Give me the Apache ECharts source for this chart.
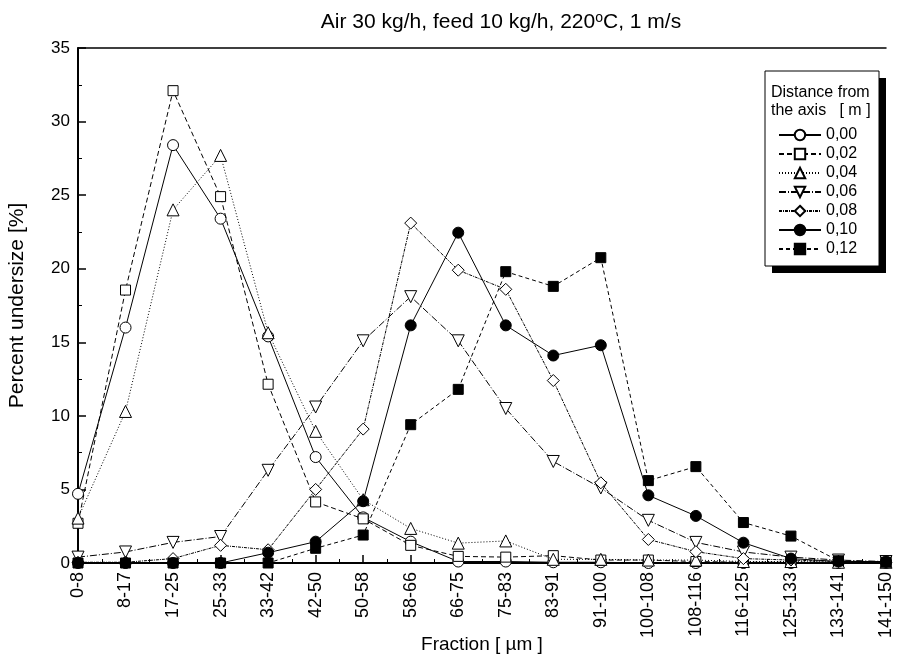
<!DOCTYPE html>
<html>
<head>
<meta charset="utf-8">
<script src="https://cdn.jsdelivr.net/npm/echarts@6/dist/echarts.min.js"></script>
<style>html,body{margin:0;padding:0;background:#fff}#c{width:900px;height:657px}</style>
</head>
<body>
<div id="c"></div>
<script>
const categories = ['0-8','8-17','17-25','25-33','33-42','42-50','50-58','58-66','66-75','75-83','83-91','91-100','100-108','108-116','116-125','125-133','133-141','141-150'];
const seriesNames = ['0,00','0,02','0,04','0,06','0,08','0,10','0,12'];
const s000 = [4.7, 16.0, 28.4, 23.4, 15.4, 7.2, 3.1, 1.45, 0.1, 0.1, 0.05, 0.05, 0.0, 0.0, 0.0, 0.0, 0.0, 0.0];
const s002 = [2.7, 18.55, 32.1, 24.9, 12.15, 4.15, 3.0, 1.2, 0.45, 0.4, 0.5, 0.2, 0.2, 0.1, 0.05, 0.05, 0.05, 0.05];
const s004 = [3.05, 10.3, 24.0, 27.7, 15.65, 8.95, 4.3, 2.35, 1.35, 1.5, 0.25, 0.25, 0.2, 0.2, 0.1, 0.1, 0.05, 0.05];
const s006 = [0.4, 0.75, 1.4, 1.8, 6.3, 10.6, 15.1, 18.1, 15.1, 10.5, 6.9, 5.1, 2.9, 1.4, 0.75, 0.4, 0.2, 0.1];
const s008 = [0.05, 0.05, 0.3, 1.2, 0.9, 5.0, 9.1, 23.1, 19.9, 18.6, 12.4, 5.45, 1.6, 0.77, 0.3, 0.2, 0.1, 0.05];
const s010 = [0.0, 0.0, 0.0, 0.0, 0.7, 1.45, 4.2, 16.15, 22.45, 16.15, 14.1, 14.8, 4.6, 3.2, 1.38, 0.3, 0.1, 0.1];
const s012 = [0.0, 0.0, 0.0, 0.0, 0.0, 1.0, 1.9, 9.4, 11.8, 19.8, 18.8, 20.75, 5.6, 6.55, 2.75, 1.83, 0.15, 0.05];

const seriesData = [s000, s002, s004, s006, s008, s010, s012];
const symbols = ['circle', 'rect', 'triangle', 'path://M0,0 L10,0 L5,9 Z', 'diamond', 'circle', 'rect'];
const symbolSizes = [11, 10, 12, 12, 12, 11, 10];
const filled = [false, false, false, false, false, true, true];
const dashes = ['solid', [5,3], [1,2], [7,2,1,2], [3,1,1,1], 'solid', [4,3]];

const FONT = 'Liberation Sans, Arial, sans-serif';
const chart = echarts.init(document.getElementById('c'), null, {renderer: 'canvas'});

const series = seriesNames.map((n, i) => ({
  name: n,
  type: 'line',
  xAxisIndex: 0,
  yAxisIndex: 0,
  data: seriesData[i],
  symbol: symbols[i],
  symbolSize: symbolSizes[i],
  showSymbol: true,
  showAllSymbol: true,
  z: 2 + i * 0.01,
  lineStyle: {color: '#000', width: 1, type: dashes[i]},
  itemStyle: {color: filled[i] ? '#000' : '#fff', borderColor: '#000', borderWidth: 1},
  emphasis: {disabled: true}
}));

const option = {
  animation: false,
  backgroundColor: '#fff',
  title: {
    text: 'Air 30 kg/h, feed 10 kg/h, 220{sup|o}C, 1 m/s',
    left: 496, top: 6, textAlign: 'center',
    textStyle: {
      fontFamily: FONT, fontSize: 21, fontWeight: 'normal', color: '#000',
      rich: {sup: {fontFamily: FONT, fontSize: 14, color: '#000', verticalAlign: 'top', padding: [0,0,9,0]}}
    }
  },
  grid: {left: 78, right: 14, top: 48, bottom: 94, outerBoundsMode: 'none', containLabel: false},
  xAxis: [
    {
      type: 'category', data: categories, boundaryGap: false, position: 'bottom',
      axisLine: {show: true, onZero: false, lineStyle: {color: '#000', width: 2}},
      axisTick: {show: false},
      axisLabel: {rotate: 90, fontFamily: FONT, fontSize: 18, color: '#000', margin: 9, interval: 0},
      splitLine: {show: false},
      name: 'Fraction [ \u00b5m ]', nameLocation: 'middle', nameGap: 72, nameMoveOverlap: false,
      nameTextStyle: {fontFamily: FONT, fontSize: 19, color: '#000'}
    },
    {
      type: 'value', min: 0, max: 17, interval: 1, position: 'bottom',
      axisLine: {show: false},
      axisTick: {show: true, inside: true, length: 8, lineStyle: {color: '#000', width: 1.5}},
      minorTick: {show: true, splitNumber: 2, length: 4, lineStyle: {color: '#000', width: 1}},
      axisLabel: {show: false}, splitLine: {show: false}
    },
    {
      type: 'value', min: 0, max: 17, position: 'top',
      axisLine: {show: true, onZero: false, lineStyle: {color: '#000', width: 1.5}},
      axisTick: {show: false}, axisLabel: {show: false}, splitLine: {show: false}
    }
  ],
  yAxis: {
    type: 'value', min: 0, max: 35, interval: 5,
    axisLine: {show: true, onZero: false, lineStyle: {color: '#000', width: 2}},
    axisTick: {show: true, inside: true, length: 8, lineStyle: {color: '#000', width: 1.5}},
    minorTick: {show: true, splitNumber: 2, length: 4, lineStyle: {color: '#000', width: 1}},
    axisLabel: {fontFamily: FONT, fontSize: 17, color: '#000', margin: 8},
    splitLine: {show: false},
    name: 'Percent undersize [%]', nameLocation: 'middle', nameGap: 50, nameMoveOverlap: false,
    nameTextStyle: {fontFamily: FONT, fontSize: 21, color: '#000'}
  },
  legend: {
    data: seriesNames,
    orient: 'vertical',
    left: 773, top: 122,
    itemWidth: 42, itemHeight: 13, itemGap: 3,
    selectedMode: false,
    z: 20,
    textStyle: {fontFamily: FONT, fontSize: 16, color: '#000'}
  },
  graphic: [
    {type: 'rect', z: 15, shape: {x: 772, y: 78, width: 114, height: 195}, style: {fill: '#000'}},
    {type: 'rect', z: 16, shape: {x: 765, y: 71, width: 114, height: 195}, style: {fill: '#fff', stroke: '#000', lineWidth: 1}},
    {type: 'text', z: 17, x: 771, y: 85, style: {text: 'Distance from', font: '16px ' + FONT, fill: '#000'}},
    {type: 'text', z: 17, x: 771, y: 103, style: {text: 'the axis   [ m ]', font: '16px ' + FONT, fill: '#000'}}
  ],
  series: series
};
chart.setOption(option);
</script>
</body>
</html>
